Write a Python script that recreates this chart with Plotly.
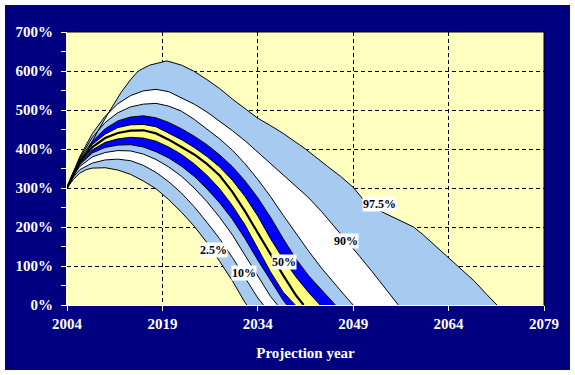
import plotly.graph_objects as go

# ---------------- data ----------------
P2_5_YEARS = [2004, 2005, 2006, 2007, 2008, 2010, 2012, 2014, 2016, 2018, 2020, 2022, 2024, 2026, 2028, 2030, 2032, 2032.3]
P2_5_VALUES = [300, 322, 338, 347, 351, 352, 346, 335, 318, 298, 270, 238, 202, 160, 112, 62, 6, 0]

P10_YEARS = [2004, 2005, 2006, 2008, 2010, 2012, 2014, 2016, 2018, 2020, 2022, 2024, 2026, 2028, 2030, 2032, 2034, 2034.9]
P10_VALUES = [300, 328, 347, 364, 372, 374, 370, 358, 340, 316, 287, 252, 212, 170, 122, 70, 18, 0]

P20_YEARS = [2004, 2005, 2006, 2008, 2010, 2012, 2014, 2016, 2018, 2020, 2022, 2024, 2026, 2028, 2030, 2032, 2034, 2036, 2037.1]
P20_VALUES = [300, 332, 355, 380, 391, 396, 395, 387, 373, 354, 330, 300, 265, 225, 180, 128, 75, 22, 0]

P30_YEARS = [2004, 2005, 2006, 2008, 2010, 2012, 2014, 2016, 2018, 2020, 2022, 2024, 2026, 2028, 2030, 2032, 2034, 2036, 2038, 2038.6]
P30_VALUES = [300, 334, 360, 390, 404, 410, 411, 405, 393, 377, 356, 330, 298, 262, 220, 170, 115, 62, 12, 0]

P40_YEARS = [2004, 2005, 2006, 2008, 2010, 2012, 2014, 2016, 2018, 2020, 2022, 2024, 2026, 2028, 2030, 2032, 2034, 2036, 2038, 2039.9]
P40_VALUES = [300, 336, 364, 398, 417, 426, 430, 428, 420, 405, 386, 362, 333, 298, 255, 205, 145, 85, 33, 0]

P50_YEARS = [2004, 2005, 2006, 2008, 2010, 2012, 2014, 2016, 2018, 2020, 2022, 2024, 2026, 2028, 2030, 2032, 2034, 2036, 2038, 2040, 2041.2]
P50_VALUES = [300, 338, 368, 405, 428, 441, 447, 448, 440, 424, 405, 386, 362, 332, 290, 240, 185, 130, 76, 25, 0]

P60_YEARS = [2004, 2005, 2006, 2008, 2010, 2012, 2014, 2016, 2018, 2020, 2022, 2024, 2026, 2028, 2030, 2032, 2034, 2036, 2038, 2040, 2042, 2043.8]
P60_VALUES = [300, 339, 371, 412, 438, 455, 462, 463, 457, 441, 424, 404, 381, 354, 320, 278, 228, 170, 118, 72, 32, 0]

P70_YEARS = [2004, 2005, 2006, 2008, 2010, 2012, 2014, 2016, 2018, 2020, 2022, 2024, 2026, 2028, 2030, 2032, 2034, 2036, 2038, 2040, 2042, 2044, 2046.2]
P70_VALUES = [300, 340, 374, 420, 452, 472, 482, 485, 480, 468, 452, 433, 411, 385, 355, 318, 275, 225, 170, 118, 75, 38, 0]

P80_YEARS = [2004, 2005, 2006, 2008, 2010, 2012, 2014, 2016, 2018, 2020, 2022, 2024, 2026, 2028, 2030, 2032, 2034, 2036, 2038, 2040, 2042, 2044, 2046, 2048, 2049]
P80_VALUES = [300, 341, 377, 430, 468, 493, 508, 515, 517, 510, 497, 476, 452, 426, 397, 362, 322, 278, 230, 183, 138, 95, 55, 18, 0]

P90_YEARS = [2004, 2005, 2006, 2008, 2010, 2012, 2014, 2016, 2018, 2020, 2022, 2024, 2026, 2028, 2030, 2032, 2034, 2036, 2038, 2040, 2042, 2044, 2046, 2048, 2050, 2052, 2054, 2056.1]
P90_VALUES = [300, 342, 380, 440, 484, 516, 537, 549, 553, 547, 532, 515, 495, 472, 447, 421, 392, 362, 333, 305, 275, 240, 202, 163, 125, 85, 45, 0]

P97_5_YEARS = [2004, 2005, 2006, 2007.3, 2009, 2010.8, 2012.5, 2014, 2015.2, 2017, 2019.7, 2022, 2023.9, 2026, 2028, 2030, 2032.3, 2034, 2036, 2038, 2041.5, 2043, 2045, 2047, 2049, 2050.5, 2052, 2054, 2056, 2058.5, 2060, 2062, 2064, 2065.5, 2068, 2070, 2071.6]
P97_5_VALUES = [300, 330, 360, 400, 450, 500, 545, 578, 600, 615, 626, 615, 600, 578, 555, 528, 500, 479, 460, 440, 400, 380, 355, 330, 302, 272, 252, 235, 220, 200, 180, 150, 122, 100, 62, 27, 0]

X_TICKS = [2004, 2019, 2034, 2049, 2064, 2079]
Y_TICKS = [0, 100, 200, 300, 400, 500, 600, 700]
Y_TICK_TEXT = ["0%", "100%", "200%", "300%", "400%", "500%", "600%", "700%"]

LABEL_TEXTS = ["2.5%", "10%", "50%", "90%", "97.5%"]
LABEL_YEARS = [2027.0, 2031.9, 2038.1, 2047.9, 2053.1]
LABEL_VALUES = [142, 82, 109, 164, 259]

# ---------------- styling ----------------
NAVY = "#000080"
PALE = "#FFFFC0"
LIGHT_BLUE = "#A6CAF0"
BLUE = "#0000FF"
YELLOW = "#FFFF80"
WHITE = "#FFFFFF"
FONT = "Liberation Serif"
GRID_DASH = "4px,3px"

curves = [
    (P2_5_YEARS, P2_5_VALUES, None),
    (P10_YEARS, P10_VALUES, LIGHT_BLUE),
    (P20_YEARS, P20_VALUES, WHITE),
    (P30_YEARS, P30_VALUES, LIGHT_BLUE),
    (P40_YEARS, P40_VALUES, BLUE),
    (P50_YEARS, P50_VALUES, YELLOW),
    (P60_YEARS, P60_VALUES, YELLOW),
    (P70_YEARS, P70_VALUES, BLUE),
    (P80_YEARS, P80_VALUES, LIGHT_BLUE),
    (P90_YEARS, P90_VALUES, WHITE),
    (P97_5_YEARS, P97_5_VALUES, LIGHT_BLUE),
]

fig = go.Figure()

# filled bands (fill between consecutive percentile curves)
for xs, ys, color in curves:
    if color is None:
        fig.add_trace(go.Scatter(x=xs, y=ys, mode="lines", line=dict(width=0, color="black"),
                                 hoverinfo="skip", showlegend=False))
    else:
        fig.add_trace(go.Scatter(x=xs, y=ys, mode="lines", line=dict(width=0, color=color),
                                 fill="tonexty", fillcolor=color, hoverinfo="skip", showlegend=False))

# outlines on top
for i, (xs, ys, color) in enumerate(curves):
    width = 2.2 if i == 5 else 1
    fig.add_trace(go.Scatter(x=xs, y=ys, mode="lines", line=dict(width=width, color="black"),
                             hoverinfo="skip", showlegend=False))

# in-plot percentile labels
for t, xv, yv in zip(LABEL_TEXTS, LABEL_YEARS, LABEL_VALUES):
    fig.add_annotation(x=xv, y=yv, xref="x", yref="y", text="<b>%s</b>" % t, showarrow=False,
                       font=dict(family=FONT, size=12, color="black"), bgcolor="white", borderpad=0)

# plot area geometry in pixels
L, R, T, B = 67, 544, 32, 305
W, H = 575, 375
pw, ph = R - L, B - T


def px_x(p):
    return (p - L) / pw


def px_y(p):
    return (B - p) / ph


# white outer frame around the navy panel
fig.add_shape(type="rect", xref="paper", yref="paper", layer="above",
              x0=px_x(0), x1=px_x(W), y0=px_y(H), y1=px_y(0),
              line=dict(color="white", width=10), fillcolor="rgba(0,0,0,0)")
# black border on top and right of plot area
fig.add_shape(type="line", xref="paper", yref="paper", x0=0, x1=1, y0=1, y1=1,
              line=dict(color="black", width=1))
fig.add_shape(type="line", xref="paper", yref="paper", x0=1, x1=1, y0=0, y1=1,
              line=dict(color="black", width=1))

fig.update_layout(
    width=W, height=H,
    margin=dict(l=L, r=W - R, t=T, b=H - B, pad=0),
    paper_bgcolor=NAVY,
    plot_bgcolor=PALE,
    showlegend=False,
    font=dict(family=FONT, color="white"),
)

fig.update_xaxes(
    range=[2004, 2079], tickvals=X_TICKS, ticktext=["<b>%d</b>" % v for v in X_TICKS],
    ticks="outside", ticklen=5, tickcolor="white", tickwidth=1,
    showline=True, linecolor="white", linewidth=1,
    showgrid=True, gridcolor="black", griddash=GRID_DASH, gridwidth=1,
    zeroline=False,
    tickfont=dict(family=FONT, size=15, color="white"),
    title=dict(text="<b>Projection year</b>", font=dict(family=FONT, size=15, color="white"), standoff=16),
)

fig.update_yaxes(
    range=[0, 700], tickvals=Y_TICKS, ticktext=["<b>%s</b>" % t for t in Y_TICK_TEXT],
    ticks="outside", ticklen=5, tickcolor="white", tickwidth=1,
    minor=dict(dtick=50, ticks="outside", ticklen=5, tickcolor="white", showgrid=False),
    showline=True, linecolor="white", linewidth=1,
    showgrid=True, gridcolor="black", griddash=GRID_DASH, gridwidth=1,
    zeroline=False,
    ticklabelstandoff=5,
    tickfont=dict(family=FONT, size=15, color="white"),
)

fig.write_html("out.html", config={"displayModeBar": False},
               post_script="document.body.style.margin='0';")
